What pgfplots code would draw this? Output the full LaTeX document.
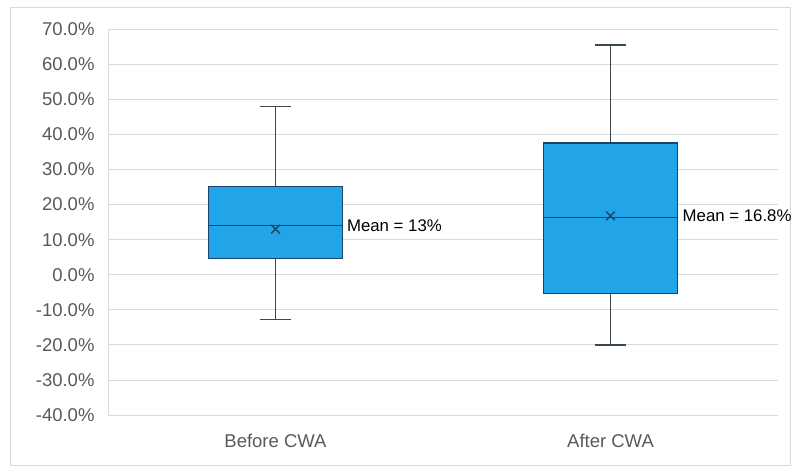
\documentclass[border=0pt]{standalone}
\usepackage{fontspec}
\setmainfont{Liberation Sans}
\usepackage{pgfplots}
\pgfplotsset{compat=1.18}
\definecolor{boxfill}{RGB}{34,164,232}
\definecolor{boxedge}{RGB}{28,68,105}
\definecolor{whisk}{RGB}{60,72,80}
\definecolor{gridc}{RGB}{217,217,217}
\definecolor{tickc}{RGB}{89,89,89}
\tikzset{bx/.style={draw=boxedge, line width=1.5bp, solid, mark=none},
         wk/.style={draw=whisk, line width=1.5bp, solid, mark=none}}
\begin{document}
\begin{tikzpicture}
\useasboundingbox (-108bp,-54bp) rectangle (690bp,415bp);
\draw[gridc, line width=0.75bp] (-98bp,-50bp) rectangle (682bp,408bp);
\begin{axis}[
  at={(0,0)}, anchor=south west,
  scale only axis, width=670bp, height=385.7bp,
  xmin=-0.5, xmax=1.5, ymin=-40, ymax=70,
  xtick={0,1}, xticklabels={Before CWA, After CWA},
  ytick={-40,-30,...,70},
  ymajorgrids, major grid style={gridc, line width=0.75bp},
  axis x line*=bottom, axis y line*=left,
  axis line style={gridc, line width=0.75bp},
  tick style={draw=none},
  ticklabel style={font=\fontsize{18.5bp}{22bp}\selectfont, text=tickc},
  yticklabel style={xshift=-10bp},
  xticklabel style={yshift=-16bp},
  /pgf/number format/assume math mode=true,
  yticklabel={\pgfmathprintnumber[fixed,fixed zerofill,precision=1]{\tick}\%},
  clip=false,
]
% Before CWA: whiskers
\addplot[wk] coordinates {(0,25.2) (0,48)};
\addplot[wk] coordinates {(-0.045,48) (0.045,48)};
\addplot[wk] coordinates {(0,4.6) (0,-12.8)};
\addplot[wk] coordinates {(-0.045,-12.8) (0.045,-12.8)};
% Before CWA: box and median
\addplot[bx, fill=boxfill] coordinates {(-0.2,4.6) (0.2,4.6) (0.2,25.2) (-0.2,25.2)} -- cycle;
\addplot[bx] coordinates {(-0.2,14) (0.2,14)};
% After CWA: whiskers
\addplot[wk] coordinates {(1,37.6) (1,65.5)};
\addplot[wk] coordinates {(0.955,65.5) (1.045,65.5)};
\addplot[wk] coordinates {(1,-5.4) (1,-20)};
\addplot[wk] coordinates {(0.955,-20) (1.045,-20)};
% After CWA: box and median
\addplot[bx, fill=boxfill] coordinates {(0.8,-5.4) (1.2,-5.4) (1.2,37.6) (0.8,37.6)} -- cycle;
\addplot[bx] coordinates {(0.8,16.3) (1.2,16.3)};
% means
\addplot[only marks, mark=x, mark size=6bp, boxedge, line width=1.5bp,
  mark options={solid, draw=boxedge}] coordinates {(0,13) (1,16.8)};
\node[anchor=west, inner sep=0pt, font=\fontsize{16.8bp}{20bp}\selectfont]
  at (axis cs:0.213,14) {Mean = 13\%};
\node[anchor=west, inner sep=0pt, font=\fontsize{16.8bp}{20bp}\selectfont]
  at (axis cs:1.215,16.9) {Mean = 16.8\%};
\end{axis}
\end{tikzpicture}
\end{document}
